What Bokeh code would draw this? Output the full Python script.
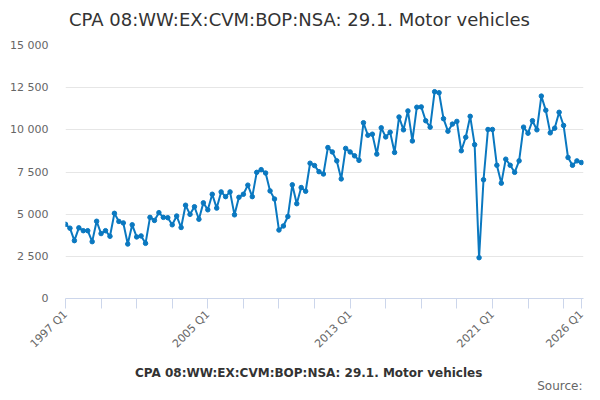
import math
from bokeh.plotting import figure
from bokeh.layouts import column
from bokeh.models import (ColumnDataSource, FixedTicker, Legend, LegendItem, Range1d, Label)
from bokeh.embed import file_html
from bokeh.resources import INLINE

title_text = "CPA 08:WW:EX:CVM:BOP:NSA: 29.1. Motor vehicles"
series_name = "CPA 08:WW:EX:CVM:BOP:NSA: 29.1. Motor vehicles"
source_text = "Source:"

start_year = 1997
values = [
    4400, 4170, 3430, 4190, 4020, 4020, 3370, 4580, 3850, 4020, 3690, 5050,
    4570, 4480, 3230, 4370, 3650, 3710, 3270, 4810, 4630, 5090, 4810, 4790,
    4370, 4890, 4210, 5530, 4990, 5440, 4700, 5670, 5260, 6180, 5360, 6320,
    6040, 6320, 4960, 6000, 6180, 6720, 6040, 7480, 7640, 7440, 6380, 5900,
    4060, 4300, 4860, 6740, 5620, 6580, 6360, 8020, 7880, 7520, 7380, 8950,
    8690, 8160, 7090, 8900, 8690, 8460, 8190, 10420, 9680, 9740, 8560, 10120,
    9580, 9860, 8660, 10760, 10000, 11120, 9340, 11340, 11360, 10540, 10160, 12260,
    12200, 10660, 9920, 10340, 10500, 8760, 9560, 10800, 9120, 2420, 7040, 10020,
    10020, 7900, 6840, 8260, 7900, 7480, 8160, 10160, 9800, 10540, 10000, 12000,
    11160, 9820, 10100, 11040, 10260, 8360, 7900, 8160, 8060,
]
x_tick_years = list(range(1997, 2026, 2)) + [2026]
x_labelled_years = [1997, 2005, 2013, 2021, 2026]
y_ticks = [0, 2500, 5000, 7500, 10000, 12500, 15000]
y_tick_labels = ["0", "2 500", "5 000", "7 500", "10 000", "12 500", "15 000"]

xs = [start_year + i / 4 for i in range(len(values))]
src = ColumnDataSource(dict(x=xs, y=values))

FONT = "DejaVu Sans"
LINE_COLOR = "#0a78c0"
W = 592
BL, BR = 65, 9
FW = W - BL - BR


def text_strip(height):
    s = figure(width=W, height=height, output_backend="svg", toolbar_location=None,
               x_range=Range1d(0, FW), y_range=Range1d(0, height),
               x_axis_location=None, y_axis_location=None,
               min_border_left=BL, min_border_right=BR, min_border_top=0, min_border_bottom=0)
    s.outline_line_color = None
    s.xgrid.grid_line_color = None
    s.ygrid.grid_line_color = None
    s.background_fill_color = "white"
    s.border_fill_color = "white"
    return s


# Header with the title
H1 = 37
h = text_strip(H1)
h.add_layout(Label(x=234, y=H1 - 19, text=title_text, text_align="center",
                   text_baseline="middle", text_font=FONT, text_font_size="18px",
                   text_color="#333333"))

# Main chart
p = figure(width=W, height=323, output_backend="svg", toolbar_location=None,
           x_range=Range1d(1997, 2026.12), y_range=Range1d(0, 15000),
           min_border_left=BL, min_border_right=BR, min_border_top=8, min_border_bottom=62)
p.outline_line_color = None
p.background_fill_color = "white"
p.border_fill_color = "white"

ln = p.line("x", "y", source=src, line_color=LINE_COLOR, line_width=2)
sc = p.scatter("x", "y", source=src, size=4.5, marker="circle",
               fill_color=LINE_COLOR, line_color=LINE_COLOR)

xa = p.xaxis[0]
xa.ticker = FixedTicker(ticks=x_tick_years)
xa.major_label_overrides = {y: (f"{y} Q1" if y in x_labelled_years else "") for y in x_tick_years}
xa.major_label_orientation = math.pi / 4
xa.axis_line_color = "#ccd6eb"
xa.major_tick_line_color = "#ccd6eb"
xa.major_tick_out = 10
xa.major_tick_in = 0
xa.minor_tick_line_color = None
xa.major_label_text_font = FONT
xa.major_label_text_font_size = "11px"
xa.major_label_text_color = "#666666"
xa.major_label_standoff = 4

ya = p.yaxis[0]
ya.ticker = FixedTicker(ticks=y_ticks)
ya.major_label_overrides = dict(zip(y_ticks, y_tick_labels))
ya.axis_line_color = None
ya.major_tick_line_color = None
ya.minor_tick_line_color = None
ya.major_tick_out = 0
ya.major_tick_in = 0
ya.major_label_standoff = 17
ya.major_label_text_font = FONT
ya.major_label_text_font_size = "11px"
ya.major_label_text_color = "#666666"

p.xgrid.grid_line_color = None
p.ygrid.grid_line_color = "#e6e6e6"
p.ygrid.grid_line_width = 1

# Footer with legend and source note
H2 = 32
f = text_strip(H2)
leg_src = ColumnDataSource(dict(x=[], y=[]))
lln = f.line("x", "y", source=leg_src, line_color=LINE_COLOR, line_width=2)
lsc = f.scatter("x", "y", source=leg_src, size=4.5, marker="circle",
                fill_color=LINE_COLOR, line_color=LINE_COLOR)
legend = Legend(items=[LegendItem(label=series_name, renderers=[lln, lsc])],
                location=(48, 9), orientation="horizontal",
                glyph_width=15, glyph_height=20, label_standoff=7,
                padding=0, margin=0, border_line_color=None,
                background_fill_alpha=0,
                label_text_font=FONT, label_text_font_size="12px",
                label_text_font_style="bold", label_text_color="#333333")
f.add_layout(legend, "center")
f.add_layout(Label(x=FW - 1, y=0, text=source_text, text_align="right",
                   text_baseline="bottom", text_font=FONT,
                   text_font_size="12px", text_color="#666666"))

layout = column(h, p, f, spacing=0)
open("out.html", "w").write(file_html(layout, INLINE))
